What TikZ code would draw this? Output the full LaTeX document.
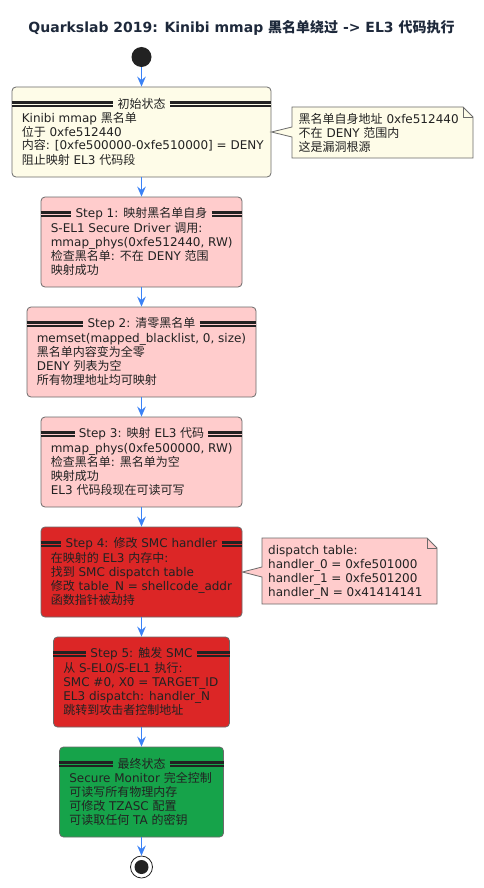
\documentclass[tikz,border=0pt]{standalone}
\usepackage{fontspec}
\setmainfont{DejaVu Sans}
\newfontfamily\cjk{Noto Sans CJK SC}
\usetikzlibrary{arrows.meta}

% CJK runs switch to the CJK font
\XeTeXinterchartokenstate=1
\newXeTeXintercharclass\cjkclass
\count255="4E00
\loop\XeTeXcharclass\count255=\cjkclass
\ifnum\count255<"9FFF \advance\count255 by 1 \repeat
\XeTeXinterchartoks 0 \cjkclass={\begingroup\cjk}
\XeTeXinterchartoks 4095 \cjkclass={\begingroup\cjk}
\XeTeXinterchartoks \cjkclass 0={\endgroup}
\XeTeXinterchartoks \cjkclass 4095={\endgroup}

\definecolor{initbg}{HTML}{FEFCE8}
\definecolor{stepbg}{HTML}{FFCCCC}
\definecolor{hotbg}{HTML}{DC2626}
\definecolor{donebg}{HTML}{16A34A}
\definecolor{edge}{HTML}{6B6B6B}
\definecolor{ink}{HTML}{222222}
\definecolor{head}{HTML}{1E293B}
\definecolor{flowblue}{HTML}{3B82F6}
\definecolor{dot}{HTML}{222222}

\begin{document}
\begin{tikzpicture}[x=1pt,y=-1pt,
  box/.style={draw=edge,line width=0.8pt,rounded corners=4pt,minimum height=90pt,inner sep=0pt},
  bar/.style={draw=ink,line width=2.4pt,double distance=1.1pt},
  boxtitle/.style={inner xsep=4pt,inner ysep=0pt,text=ink,font=\fontsize{12}{14}\selectfont},
  body/.style={anchor=base west,align=left,inner sep=0pt,text=ink,font=\fontsize{12}{14}\selectfont},
  note/.style={draw=edge,line width=0.8pt,line join=miter},
  flow/.style={draw=flowblue,line width=1.5pt,-{Stealth[length=10pt,width=8.5pt,inset=3.5pt]}}]
  \useasboundingbox[fill=white] (0,0) rectangle (483,888);

  \node[text=head,font=\bfseries\fontsize{14}{16}\selectfont] (title) at (241.5,28)
    {Quarkslab 2019: Kinibi mmap 黑名单绕过 -> EL3 代码执行};

  \node[circle,fill=dot,minimum size=20pt,inner sep=0pt] (start) at (141.5,57) {};
  \node[box,fill=initbg,minimum width=259pt] (init) at (141.5,132) {};
  \node[box,fill=stepbg,minimum width=201pt] (s1) at (141.5,242) {};
  \node[box,fill=stepbg,minimum width=229pt] (s2) at (141.5,352) {};
  \node[box,fill=stepbg,minimum width=201pt] (s3) at (141.5,462) {};
  \node[box,fill=hotbg,minimum width=201pt] (s4) at (141.5,572) {};
  \node[box,fill=hotbg,minimum width=176pt] (s5) at (141.5,682) {};
  \node[box,fill=donebg,minimum width=164pt] (fin) at (141.5,792) {};
  \node[circle,draw=dot,fill=white,line width=0.8pt,minimum size=22pt,inner sep=0pt] (stop) at (141.5,867) {};
  \fill[dot] (stop) circle [radius=7pt];

  % title bars
  \foreach \n/\t/\c in {init/初始状态/initbg, s1/{Step 1: 映射黑名单自身}/stepbg,
      s2/{Step 2: 清零黑名单}/stepbg, s3/{Step 3: 映射 EL3 代码}/stepbg,
      s4/{Step 4: 修改 SMC handler}/hotbg, s5/{Step 5: 触发 SMC}/hotbg, fin/最终状态/donebg} {
    \node[boxtitle] (\n t) at ([yshift=-17.5pt]\n.north) {\t};
    \draw[bar,double=\c] (\n.west |- \n t) -- (\n t.west);
    \draw[bar,double=\c] (\n t.east) -- (\n.east |- \n t);
  }

  % body texts, placed by the baseline of their last line
  \node[body] at ([shift={(10pt,-77.4pt)}]init.north west)
    {Kinibi mmap 黑名单\\位于 0xfe512440\\内容: [0xfe500000-0xfe510000] = DENY\\阻止映射 EL3 代码段};
  \node[body] at ([shift={(10pt,-77.4pt)}]s1.north west)
    {S-EL1 Secure Driver 调用:\\mmap\_phys(0xfe512440, RW)\\检查黑名单: 不在 DENY 范围\\映射成功};
  \node[body] at ([shift={(10pt,-77.4pt)}]s2.north west)
    {memset(mapped\_blacklist, 0, size)\\黑名单内容变为全零\\DENY 列表为空\\所有物理地址均可映射};
  \node[body] at ([shift={(10pt,-77.4pt)}]s3.north west)
    {mmap\_phys(0xfe500000, RW)\\检查黑名单: 黑名单为空\\映射成功\\EL3 代码段现在可读可写};
  \node[body] at ([shift={(10pt,-77.4pt)}]s4.north west)
    {在映射的 EL3 内存中:\\找到 SMC dispatch table\\修改 table\_N = shellcode\_addr\\函数指针被劫持};
  \node[body] at ([shift={(10pt,-77.4pt)}]s5.north west)
    {从 S-EL0/S-EL1 执行:\\SMC \#0, X0 = TARGET\_ID\\EL3 dispatch: handler\_N\\跳转到攻击者控制地址};
  \node[body] at ([shift={(10pt,-77.4pt)}]fin.north west)
    {Secure Monitor 完全控制\\可读写所有物理内存\\可修改 TZASC 配置\\可读取任何 TA 的密钥};

  % notes
  \draw[note,fill=initbg] (292,107) -- (463,107) -- (473,117) -- (473,158) -- (292,158)
    -- (292,137) -- (init.east) -- (292,127) -- cycle;
  \draw[note] (463,107) -- (463,117) -- (473,117);
  \node[body] (n1) at (298.5,151.4) {黑名单自身地址 0xfe512440\\不在 DENY 范围内\\这是漏洞根源};

  \draw[note,fill=stepbg] (262,538) -- (427,538) -- (437,548) -- (437,604) -- (262,604)
    -- (262,577) -- (s4.east) -- (262,567) -- cycle;
  \draw[note] (427,538) -- (427,548) -- (437,548);
  \node[body] (n2) at (268,596.4) {dispatch table:\\handler\_0 = 0xfe501000\\handler\_1 = 0xfe501200\\handler\_N = 0x41414141};

  \foreach \a/\b in {start/init,init/s1,s1/s2,s2/s3,s3/s4,s4/s5,s5/fin,fin/stop}
    \draw[flow] (\a) -- (\b);
\end{tikzpicture}
\end{document}
